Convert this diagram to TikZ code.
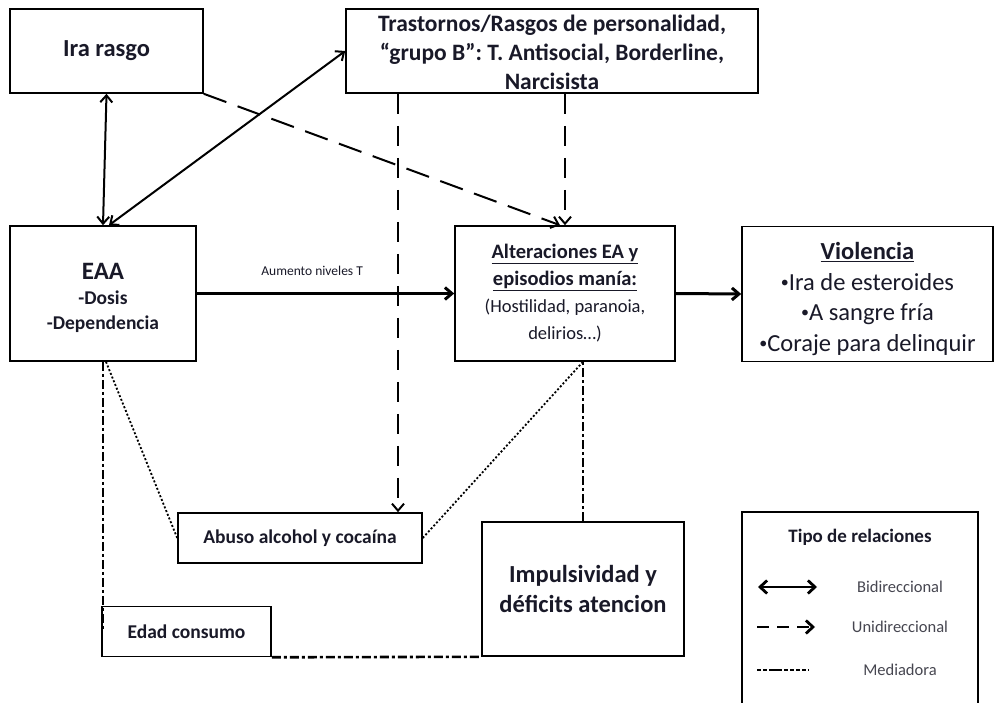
\documentclass[tikz,border=0pt]{standalone}
\usepackage{fontspec}
\setmainfont{Carlito}
\usetikzlibrary{arrows.meta}
\newcommand\myfs[2]{\fontsize{#1pt}{#2pt}\selectfont}
\newcommand\smbul{\raisebox{0.12em}{\fontsize{16pt}{16pt}\selectfont •}}
\definecolor{ink}{RGB}{25,25,40}
\definecolor{legink}{RGB}{70,70,80}
\begin{document}
\begin{tikzpicture}[x=1pt,y=-1pt,
  box/.style={draw=black, line width=1.6pt, inner sep=2pt, align=center, text=ink},
  bidir/.style={{Straight Barb[length=7pt,width=12pt]}-{Straight Barb[length=7pt,width=12pt]}, line width=2pt},
  uni/.style={-{Straight Barb[length=7pt,width=12pt]}, line width=2pt, dash pattern=on 20pt off 12pt},
  solidarrow/.style={-{Straight Barb[length=7pt,width=12pt]}, line width=3pt},
  med/.style={line width=2.6pt, dash pattern=on 9pt off 3pt on 3pt off 3pt},
  dots/.style={line width=1.8pt, dash pattern=on 2pt off 2pt},
  legtext/.style={text=legink, font=\myfs{16.5}{20}}
]
\fill[white] (0,0) rectangle (997,703);
\useasboundingbox (0,0) rectangle (997,703);

% boxes
\node[box, minimum width=193pt, minimum height=84pt, font=\myfs{24.5}{29}\bfseries] (ira) at (106.5,51) {Ira rasgo};
\node[box, minimum width=412pt, minimum height=84pt, font=\myfs{23.5}{29}\bfseries] (tras) at (552,51)
  {\rule{0pt}{20pt}Trastornos/Rasgos de personalidad,\\ “grupo B”: T. Antisocial, Borderline,\\ Narcisista};
\node[box, minimum width=186pt, minimum height=135pt, font=\myfs{19.5}{25}\bfseries] (eaa) at (103,293.5)
  {\rule{0pt}{25pt}{\myfs{25}{25}EAA}\\ -Dosis\\ -Dependencia};
\node[box, minimum width=220pt, minimum height=135pt, font=\myfs{20.5}{27}] (alt) at (565,293.5)
  {\textbf{\underline{Alteraciones EA y}}\\ \textbf{\underline{episodios manía:}}\\ {\myfs{18.5}{27}(Hostilidad, paranoia,}\\ {\myfs{18.5}{27}delirios…)}};
\node[box, minimum width=251pt, minimum height=135pt, font=\myfs{24.5}{30.5}] (vio) at (867.5,294)
  {\rule{0pt}{27pt}\textbf{\underline{Violencia}}\\ \smbul Ira de esteroides\\ \smbul A sangre fría\\ \smbul Coraje para delinquir};
\node[box, minimum width=244pt, minimum height=50pt, font=\myfs{19.5}{24}\bfseries] (abuso) at (300,538) {Abuso alcohol y cocaína};
\node[box, minimum width=169pt, minimum height=50pt, font=\myfs{19.5}{24}\bfseries] (edad) at (186.5,631.5) {Edad consumo};
\node[box, minimum width=202pt, minimum height=134pt, font=\myfs{24.5}{30}\bfseries] (imp) at (583,589) {Impulsividad y\\ déficits atencion};

% connectors
\draw[bidir] (ira.south) -- (eaa.north);
\draw[bidir] ([xshift=6pt]eaa.north) -- (tras.west);
\draw[uni, dash pattern=on 24pt off 12pt] (ira.south east) -- ([xshift=-5pt]alt.north);
\draw[uni] (tras.south -| alt.north) -- (alt.north);
\coordinate (abtop) at ([xshift=98pt]abuso.north);
\draw[uni] (abtop |- tras.south) -- (abtop);
\draw[solidarrow] (eaa.east) -- node[pos=0.448, yshift=23pt, text=ink, font=\myfs{13.5}{16}] (lblT) {Aumento niveles T} (alt.west);
\draw[solidarrow] (alt.east) -- (vio.west);
\draw[med] (eaa.south) -- (eaa.south |- edad.west);
\draw[dots] ([xshift=3pt]eaa.south) -- (abuso.west);
\draw[dots] (abuso.east) -- (alt.south -| imp.north);
\draw[med] (imp.north) -- (imp.north |- alt.south);
\draw[med] (edad.south east) -- (imp.south west);

% legend
\coordinate (lgBL) at (742,703);
\coordinate (lgTL) at (742,512);
\coordinate (lgTR) at (978,512);
\coordinate (lgBR) at (978,703);
\draw[line width=1.6pt] (lgBL) -- (lgTL) -- (lgTR) -- (lgBR);
\node[text=ink, font=\myfs{19}{22}\bfseries] (legtitle) at (860,537) {Tipo de relaciones};
\coordinate (b1) at (758,587); \coordinate (b2) at (817,587);
\coordinate (u1) at (757,627); \coordinate (u2) at (815,627);
\coordinate (m1) at (757,670); \coordinate (m2) at (809,670);
\draw[{Straight Barb[length=7pt,width=13pt]}-{Straight Barb[length=7pt,width=13pt]}, line width=2.8pt] (b1) -- (b2);
\draw[-{Straight Barb[length=7pt,width=13pt]}, line width=2.8pt, dash pattern=on 12pt off 8pt] (u1) -- (u2);
\draw[line width=2.8pt, dash pattern=on 4pt off 2pt on 4pt off 2pt on 13pt off 2pt on 4pt off 2pt on 4pt off 2pt on 4pt off 2pt] (m1) -- (m2);
\node[legtext] (lbib) at (900,587) {Bidireccional};
\node[legtext] (lbuni) at (900,627) {Unidireccional};
\node[legtext] (lbmed) at (900,670) {Mediadora};
\end{tikzpicture}
\end{document}
